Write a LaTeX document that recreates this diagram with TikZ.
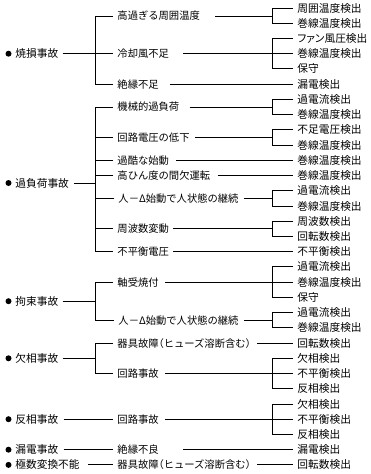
\documentclass[tikz,border=0pt]{standalone}
\usepackage{fontspec}
\setmainfont{Noto Sans CJK JP}
\newfontfamily\halffont[RawFeature=+halt]{Noto Sans CJK JP}
\newfontfamily\propfont[RawFeature=+palt]{Noto Sans CJK JP}
\newcommand{\lpar}{{\halffont （}}
\newcommand{\rpar}{{\halffont ）}}
\begin{document}
\begin{tikzpicture}[x=1pt,y=-1pt,line width=0.9pt,
  txt/.style={anchor=west,inner sep=0pt,font=\fontsize{10.3}{12}\selectfont},
  side/.style={txt,font=\fontsize{10.7}{12}\selectfont},
  bul/.style={fill=black}]
\useasboundingbox (0,0) rectangle (370,474);
\coordinate (mx) at (95,0);
\coordinate (rx) at (272,0);
% left column
\node[side] (L1) at (15,53.7) {焼損事故};
\node[side] (L2) at (15,183) {過負荷事故};
\node[side] (L3) at (15,301.2) {拘束事故};
\node[side] (L4) at (15,358.3) {欠相事故};
\node[side] (L5) at (15,419.2) {反相事故};
\node[side] (L6) at (15,449.7) {漏電事故};
\node[side] (L7) at (15,464.9) {極数変換不能};
\foreach \n in {L1,L2,L3,L4,L5,L6,L7}{\fill[bul] ([xshift=-6.5pt]\n.west) circle (3pt);}
% middle column
\node[txt] (M1) at (117,16) {高過ぎる周囲温度};
\node[txt] (M2) at (117,53.7) {冷却風不足};
\node[txt] (M3) at (117,84.2) {絶縁不足};
\node[txt] (M4) at (117,107) {機械的過負荷};
\node[txt] (M5) at (117,137.5) {回路電圧の低下};
\node[txt] (M6) at (117,160.3) {過酷な始動};
\node[txt] (M7) at (117,175.5) {高ひん度の間欠運転};
\node[txt] (M8) at (118,198.4) {人－Δ始動で人状態の継続};
\node[txt] (M9) at (117,228.8) {周波数変動};
\node[txt] (M10) at (117,251.7) {不平衡電圧};
\node[txt] (M11) at (117,282.1) {軸受焼付};
\node[txt] (M12) at (118,320.2) {人－Δ始動で人状態の継続};
\node[txt] (M13) at (117,343.1) {器具故障\lpar ヒューズ溶断含む\rpar};
\node[txt] (M14) at (117,373.5) {回路事故};
\node[txt] (M15) at (117,419.2) {回路事故};
\node[txt] (M16) at (117,449.7) {絶縁不良};
\node[txt] (M17) at (117,464.9) {器具故障\lpar ヒューズ溶断含む\rpar};
% right column
\node[side] (R1) at (297,8.0) {周囲温度検出};
\node[side] (R2) at (297,23.2) {巻線温度検出};
\node[side] (R3) at (297,38.5) {\propfont ファン風圧検出};
\node[side] (R4) at (297,53.7) {巻線温度検出};
\node[side] (R5) at (297,68.9) {保守};
\node[side] (R6) at (297,84.2) {漏電検出};
\node[side] (R7) at (297,99.4) {過電流検出};
\node[side] (R8) at (297,114.6) {巻線温度検出};
\node[side] (R9) at (297,129.8) {不足電圧検出};
\node[side] (R10) at (297,145.1) {巻線温度検出};
\node[side] (R11) at (297,160.3) {巻線温度検出};
\node[side] (R12) at (297,175.5) {巻線温度検出};
\node[side] (R13) at (297,190.8) {過電流検出};
\node[side] (R14) at (297,206.0) {巻線温度検出};
\node[side] (R15) at (297,221.2) {周波数検出};
\node[side] (R16) at (297,236.5) {回転数検出};
\node[side] (R17) at (297,251.7) {不平衡検出};
\node[side] (R18) at (297,266.9) {過電流検出};
\node[side] (R19) at (297,282.1) {巻線温度検出};
\node[side] (R20) at (297,297.4) {保守};
\node[side] (R21) at (297,312.6) {過電流検出};
\node[side] (R22) at (297,327.8) {巻線温度検出};
\node[side] (R23) at (297,343.1) {回転数検出};
\node[side] (R24) at (297,358.3) {欠相検出};
\node[side] (R25) at (297,373.5) {不平衡検出};
\node[side] (R26) at (297,388.8) {反相検出};
\node[side] (R27) at (297,404.0) {欠相検出};
\node[side] (R28) at (297,419.2) {不平衡検出};
\node[side] (R29) at (297,434.4) {反相検出};
\node[side] (R30) at (297,449.7) {漏電検出};
\node[side] (R31) at (297,464.9) {回転数検出};
% left -> middle
\draw ([xshift=-4pt]M1.west) -- (M1.west -| mx) -- (M3.west -| mx) -- ([xshift=-4pt]M3.west);
\draw ([xshift=4pt]L1.east) -- ([xshift=-4pt]M2.west);
\draw ([xshift=-4pt]M4.west) -- (M4.west -| mx) -- (M10.west -| mx) -- ([xshift=-4pt]M10.west);
\foreach \n in {M5,M6,M7,M8,M9}{\draw ([xshift=-4pt]\n.west) -- (\n.west -| mx);}
\draw ([xshift=5pt]L2.east) -- (L2.east -| mx);
\draw ([xshift=-4pt]M11.west) -- (M11.west -| mx) -- (M12.west -| mx) -- ([xshift=-4pt]M12.west);
\draw ([xshift=4pt]L3.east) -- (L3.east -| mx);
\draw ([xshift=-4pt]M13.west) -- (M13.west -| mx) -- (M14.west -| mx) -- ([xshift=-4pt]M14.west);
\draw ([xshift=4pt]L4.east) -- (L4.east -| mx);
\draw ([xshift=5pt]L5.east) -- ([xshift=-4pt]M15.west);
\draw ([xshift=5pt]L6.east) -- ([xshift=-4pt]M16.west);
\draw ([xshift=8pt]L7.east) -- ([xshift=-4pt]M17.west);
% right brackets
\draw ([xshift=-4pt]R1.west) -- (R1.west -| rx) -- (R2.west -| rx) -- ([xshift=-4pt]R2.west);
\draw ([xshift=-4pt]R3.west) -- (R3.west -| rx) -- (R5.west -| rx) -- ([xshift=-4pt]R5.west);
\draw ([xshift=-4pt]R7.west) -- (R7.west -| rx) -- (R8.west -| rx) -- ([xshift=-4pt]R8.west);
\draw ([xshift=-4pt]R9.west) -- (R9.west -| rx) -- (R10.west -| rx) -- ([xshift=-4pt]R10.west);
\draw ([xshift=-4pt]R13.west) -- (R13.west -| rx) -- (R14.west -| rx) -- ([xshift=-4pt]R14.west);
\draw ([xshift=-4pt]R15.west) -- (R15.west -| rx) -- (R16.west -| rx) -- ([xshift=-4pt]R16.west);
\draw ([xshift=-4pt]R18.west) -- (R18.west -| rx) -- (R20.west -| rx) -- ([xshift=-4pt]R20.west);
\draw ([xshift=-4pt]R21.west) -- (R21.west -| rx) -- (R22.west -| rx) -- ([xshift=-4pt]R22.west);
\draw ([xshift=-4pt]R24.west) -- (R24.west -| rx) -- (R26.west -| rx) -- ([xshift=-4pt]R26.west);
\draw ([xshift=-4pt]R27.west) -- (R27.west -| rx) -- (R29.west -| rx) -- ([xshift=-4pt]R29.west);
% middle -> right
\draw ([xshift=15pt]M1.east) -- (M1.east -| rx);
\draw ([xshift=14pt]M2.east) -- ([xshift=-4pt]R4.west);
\draw ([xshift=11pt]M3.east) -- ([xshift=-4pt]R6.west);
\draw ([xshift=10pt]M4.east) -- (M4.east -| rx);
\draw ([xshift=5pt]M5.east) -- (M5.east -| rx);
\draw ([xshift=7pt]M6.east) -- ([xshift=-4pt]R11.west);
\draw ([xshift=7pt]M7.east) -- ([xshift=-4pt]R12.west);
\draw ([xshift=5pt]M8.east) -- (M8.east -| rx);
\draw ([xshift=4pt]M9.east) -- (M9.east -| rx);
\draw ([xshift=4pt]M10.east) -- ([xshift=-4pt]R17.west);
\draw ([xshift=6pt]M11.east) -- ([xshift=-4pt]R19.west);
\draw ([xshift=5pt]M12.east) -- (M12.east -| rx);
\draw ([xshift=6pt]M13.east) -- ([xshift=-4pt]R23.west);
\draw ([xshift=6pt]M14.east) -- ([xshift=-4pt]R25.west);
\draw ([xshift=6pt]M15.east) -- ([xshift=-4pt]R28.west);
\draw ([xshift=24pt]M16.east) -- ([xshift=-4pt]R30.west);
\draw ([xshift=6pt]M17.east) -- ([xshift=-4pt]R31.west);
\end{tikzpicture}
\end{document}
